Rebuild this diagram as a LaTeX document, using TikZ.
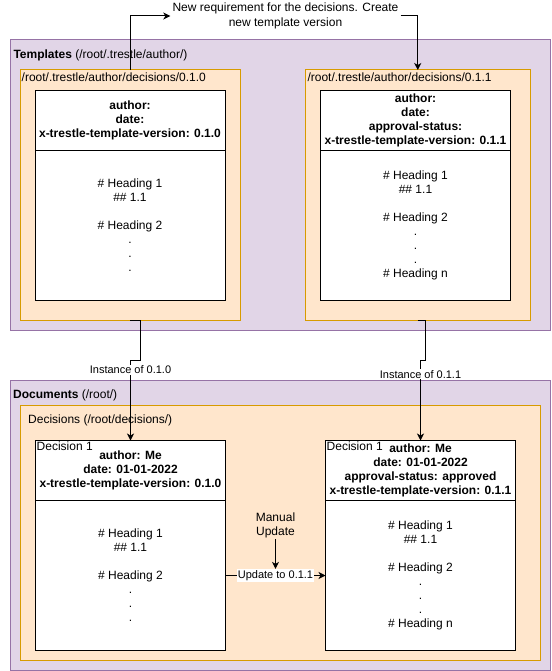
\documentclass[tikz,border=0pt]{standalone}
\usepackage{fontspec}
\setmainfont{Liberation Sans}
\usepackage{xcolor}
\usepackage{tikz}
\usetikzlibrary{positioning, arrows.meta}

\definecolor{grpfill}{HTML}{E1D5E7}
\definecolor{grpline}{HTML}{9673A6}
\definecolor{fldfill}{HTML}{FFE6CC}
\definecolor{fldline}{HTML}{D79B00}

\begin{document}
\begin{tikzpicture}[
        x=1pt, y=-1pt,
        >={Stealth[length=7pt, width=7pt, inset=2pt]},
        % Style des grands conteneurs
        group/.style={
            rectangle,
            draw=grpline,
            fill=grpfill,
            line width=1pt,
            inner sep=0pt,
            outer sep=0pt
        },
        % Style des dossiers
        folder/.style={
            group,
            draw=fldline,
            fill=fldfill
        },
        % Style des en-têtes de document
        head/.style={
            rectangle,
            draw=black,
            fill=white,
            line width=1pt,
            minimum width=190pt,
            minimum height=60pt,
            inner sep=2pt,
            outer sep=0pt,
            align=center,
            font=\fontsize{12}{14}\selectfont\bfseries
        },
        % Style des corps de document
        body/.style={
            head,
            minimum height=150pt,
            font=\fontsize{12}{14}\selectfont
        },
        % Style des textes
        grouptext/.style={anchor=west, inner sep=0pt, font=\fontsize{12}{14}\selectfont},
        edgetext/.style={fill=white, inner sep=1pt, font=\fontsize{11}{13}\selectfont},
        % Style des flèches
        line/.style={->, line width=1pt, draw=black}
    ]
    \useasboundingbox (0,0) rectangle (551,671);

    % --- TEMPLATES ---
    \node [group, anchor=north west, minimum width=540pt, minimum height=290pt] (templates) at (10,40) {};
    \node [grouptext] at ([shift={(3.3,15.5)}]templates.north west) {\textbf{Templates} (/root/.trestle/author/)};

    \node [folder, anchor=north west, minimum width=220.5pt, minimum height=250pt] (tAfold) at (20,70) {};
    \node [grouptext] at ([shift={(1.5,7.7)}]tAfold.north west) {/root/.trestle/author/decisions/0.1.0};
    \node [head, below right=20.5pt and 15pt of tAfold.north west] (tAhead) {author:\\date:\\x-trestle-template-version: 0.1.0};
    \node [body, below=0pt of tAhead] (tAbody) {\# Heading 1\\\#\# 1.1\\[14pt]\# Heading 2\\.\\.\\.};

    \node [folder, anchor=north west, minimum width=225.5pt, minimum height=250pt] (tBfold) at (305,70) {};
    \node [grouptext] at ([shift={(2.3,7.7)}]tBfold.north west) {/root/.trestle/author/decisions/0.1.1};
    \node [head, below right=20.5pt and 15.5pt of tBfold.north west] (tBhead) {author:\\date:\\approval-status:\\x-trestle-template-version: 0.1.1};
    \node [body, below=0pt of tBhead] (tBbody) {\# Heading 1\\\#\# 1.1\\[14pt]\# Heading 2\\.\\.\\.\\\# Heading n};

    % --- DOCUMENTS ---
    \node [group, anchor=north west, minimum width=540pt, minimum height=290pt] (documents) at (10,380) {};
    \node [grouptext] at ([shift={(3,15.7)}]documents.north west) {\textbf{Documents} (/root/)};

    \node [folder, below right=25pt and 10pt of documents.north west, minimum width=520.5pt, minimum height=255pt] (decfold) {};
    \node [grouptext] at ([shift={(8,15.7)}]decfold.north west) {Decisions (/root/decisions/)};

    \node [head, below right=35.5pt and 15.5pt of decfold.north west] (decAhead) {author: Me\\date: 01-01-2022\\x-trestle-template-version: 0.1.0};
    \node [body, below=0pt of decAhead] (decAbody) {\# Heading 1\\\#\# 1.1\\[14pt]\# Heading 2\\.\\.\\.};
    \node [grouptext, anchor=north west, inner sep=1pt] at (decAhead.north west) {Decision 1};

    \node [head, right=100pt of decAhead] (decBhead) {author: Me\\date: 01-01-2022\\approval-status: approved\\x-trestle-template-version: 0.1.1};
    \node [body, below=0pt of decBhead] (decBbody) {\# Heading 1\\\#\# 1.1\\[14pt]\# Heading 2\\.\\.\\.\\\# Heading n};
    \node [grouptext, anchor=north west, inner sep=1pt] at (decBhead.north west) {Decision 1};

    % --- NOUVELLE VERSION ---
    \node [align=center, minimum width=230pt, inner sep=1pt, font=\fontsize{12}{15}\selectfont] (req) at (285.5,16) {New requirement for the decisions. Create\\new template version};
    \draw [line] (tAfold.north) |- (req.west);
    \draw [line] (req.east) -| (tBfold.north);

    % --- INSTANCES ---
    \draw [line] (tAfold.south) -- ++(10.7,0) -- ++(0,40.7) -| node[edgetext, pos=0.558] {Instance of 0.1.0} (decAhead.north);
    \draw [line] (tBfold.south) -- ++(8.2,0) -- ++(0,40.7) -| node[edgetext, pos=0.585] {Instance of 0.1.1} (decBhead.north);

    % --- MISE A JOUR ---
    \draw [line] (decAbody) -- node[edgetext] (upd) {Update to 0.1.1} (decBbody);
    \node [align=center, inner sep=1pt, font=\fontsize{12}{14}\selectfont] (manual) at (275.5,525.7) {Manual\\Update};
    \draw [line] (manual) -- (upd);

\end{tikzpicture}
\end{document}
